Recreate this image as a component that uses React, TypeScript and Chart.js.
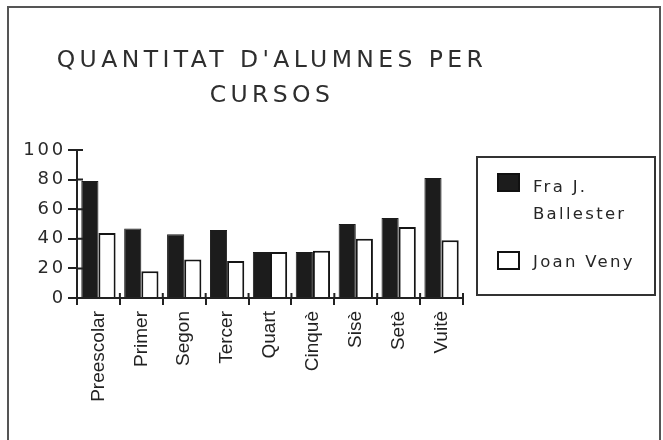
import { useEffect, useRef } from 'react';
import { Chart, registerables } from 'chart.js';

Chart.register(...registerables);

const categories = ['Preescolar', 'Primer', 'Segon', 'Tercer', 'Quart', 'Cinquè', 'Sisè', 'Setè', 'Vuitè'];
const fraJBallester = [79, 47, 43, 46, 31, 31, 50, 54, 81];
const joanVeny = [44, 18, 26, 25, 31, 32, 40, 48, 39];
const seriesLabels = ['Fra J. Ballester', 'Joan Veny'];
const titleLines = ["QUANTITAT D'ALUMNES PER", 'CURSOS'];
const yMin = 0;
const yMax = 100;
const yStep = 20;

const INK = '#222';

const spacingPlugin = {
  id: 'spacing',
  beforeDraw(chart: any) {
    chart.ctx.letterSpacing = '2.8px';
  },
  afterDatasetsDraw(chart: any) {
    chart.ctx.letterSpacing = '0px';
  },
};

const decorPlugin = {
  id: 'decor',
  afterDraw(chart: any) {
    const ctx = chart.ctx as CanvasRenderingContext2D;
    const area = chart.chartArea;
    const xs = chart.scales.x;
    const ys = chart.scales.y;
    ctx.save();
    // outer frame
    ctx.strokeStyle = '#555';
    ctx.lineWidth = 2;
    ctx.strokeRect(8, 7, 652, 460);

    // inner halves of tick marks
    ctx.strokeStyle = INK;
    ctx.lineWidth = 2;
    ctx.beginPath();
    ys.ticks.forEach((_t: any, i: number) => {
      const y = ys.getPixelForTick(i);
      ctx.moveTo(area.left, y);
      ctx.lineTo(area.left + 6, y);
    });
    for (let i = 0; i <= categories.length; i++) {
      const x = xs.getPixelForValue(i - 0.5);
      ctx.moveTo(x, area.bottom);
      ctx.lineTo(x, area.bottom - 5);
    }
    ctx.stroke();

    // title
    (ctx as any).letterSpacing = '4.4px';
    ctx.fillStyle = '#2e2e2e';
    ctx.font = '23.5px "DejaVu Sans"';
    ctx.textAlign = 'center';
    ctx.textBaseline = 'alphabetic';
    const cx = (area.left + area.right) / 2 + 2;
    titleLines.forEach((line, i) => {
      ctx.fillText(line, cx, 67 + i * 35);
    });

    // legend
    const lx = area.right + 14;
    const ly = area.top + 7;
    const lw = 178;
    const lh = 138;
    ctx.strokeStyle = '#333';
    ctx.lineWidth = 2;
    ctx.strokeRect(lx, ly, lw, lh);
    ctx.font = '16.5px "DejaVu Sans"';
    (ctx as any).letterSpacing = '2.3px';
    ctx.textAlign = 'left';
    ctx.textBaseline = 'middle';
    const maxW = 115;
    const items = [
      { swTop: ly + 16, txt: ly + 31 },
      { swTop: ly + 94, txt: ly + 106 },
    ];
    chart.data.datasets.forEach((ds: any, i: number) => {
      const it = items[i];
      ctx.fillStyle = ds.backgroundColor;
      ctx.fillRect(lx + 20, it.swTop, 23, 19);
      ctx.strokeStyle = '#111';
      ctx.lineWidth = 2;
      ctx.strokeRect(lx + 21, it.swTop + 1, 21, 17);
      // wrap
      const words = String(ds.label).split(' ');
      const lines: string[] = [];
      let cur = '';
      words.forEach((w) => {
        const test = cur ? cur + ' ' + w : w;
        if (ctx.measureText(test).width > maxW && cur) {
          lines.push(cur);
          cur = w;
        } else {
          cur = test;
        }
      });
      if (cur) lines.push(cur);
      ctx.fillStyle = '#262626';
      lines.forEach((l, j) => ctx.fillText(l, lx + 56, it.txt + j * 27));
    });
    ctx.restore();
  },
};

export default function App() {
  const ref = useRef<HTMLCanvasElement | null>(null);
  useEffect(() => {
    if (!ref.current) return;
    const chart = new Chart(ref.current, {
      type: 'bar',
      data: {
        labels: categories,
        datasets: [
          {
            label: seriesLabels[0],
            data: fraJBallester,
            backgroundColor: '#1c1c1c',
            borderColor: '#1c1c1c',
            borderWidth: 1,
            categoryPercentage: 0.8,
            barPercentage: 1.0,
          },
          {
            label: seriesLabels[1],
            data: joanVeny,
            backgroundColor: '#ffffff',
            borderColor: '#151515',
            borderWidth: 2,
            categoryPercentage: 0.8,
            barPercentage: 1.0,
          },
        ],
      },
      options: {
        responsive: false,
        animation: false,
        layout: { padding: { left: 0, right: 200, top: 150, bottom: 12 } },
        plugins: {
          legend: { display: false },
          title: { display: false },
          tooltip: { enabled: false },
        },
        scales: {
          x: {
            offset: true,
            grid: {
              offset: true,
              drawOnChartArea: false,
              drawTicks: true,
              tickLength: 7,
              color: INK,
              lineWidth: 2,
              z: 1,
            },
            border: { display: true, color: INK, width: 2, z: 1 },
            ticks: {
              z: 1,
              autoSkip: false,
              minRotation: 90,
              maxRotation: 90,
              padding: 6,
              color: INK,
              font: { family: '"Liberation Sans", Arial, sans-serif', size: 19 },
            },
            afterFit: (s: any) => {
              s.height = 130;
            },
          },
          y: {
            min: yMin,
            max: yMax,
            ticks: {
              stepSize: yStep,
              padding: 2,
              color: '#2a2a2a',
              font: { family: '"DejaVu Sans"', size: 18 },
            },
            grid: {
              drawOnChartArea: false,
              drawTicks: true,
              tickLength: 9,
              color: INK,
              lineWidth: 2,
            },
            border: { display: true, color: INK, width: 2, z: 1 },
            afterFit: (s: any) => {
              s.width = 77;
            },
          },
        },
      },
      plugins: [spacingPlugin, decorPlugin],
    });
    return () => chart.destroy();
  }, []);
  return (
    <div style={{ position: 'fixed', left: 0, top: 0, width: 663, height: 440, background: '#fff' }}>
      <canvas ref={ref} width={663} height={440} />
    </div>
  );
}
